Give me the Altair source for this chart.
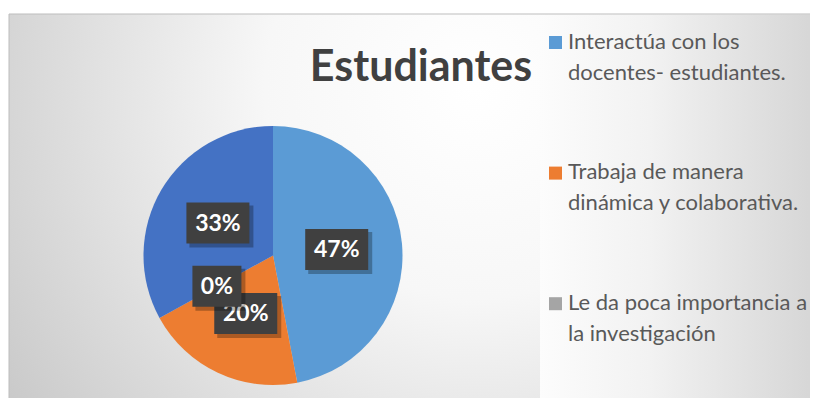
import altair as alt
import pandas as pd

# ---------------- data ----------------
categories = [
    "Interactúa con los docentes- estudiantes.",
    "Trabaja de manera dinámica y colaborativa.",
    "Le da poca importancia a la investigación",
    "(sin etiqueta)",
]
values = [47, 20, 0, 33]
colors = ["#5B9BD5", "#ED7D31", "#A5A5A5", "#4472C4"]
legend_labels = [
    "Interactúa con los\ndocentes- estudiantes.",
    "Trabaja de manera\ndinámica y colaborativa.",
    "Le da poca importancia a\nla investigación",
]
title_text = "Estudiantes"

# ---------------- layout ----------------
W, H = 802, 390
CX, CY, R = 265, 247.5, 129.5   # pie centre / radius (px)
LR = 64                          # label radius

df = pd.DataFrame({"idx": list(range(len(values))), "cat": categories, "value": values})
leg_df = pd.DataFrame({"i": list(range(len(legend_labels))),
                       "label": legend_labels,
                       "cat": categories[:len(legend_labels)]})
one = pd.DataFrame({"k": [0]})

color_scale = alt.Scale(domain=categories, range=colors)

# background
bg = alt.Chart(one).mark_rect(
    fill=alt.Gradient(gradient="radial", x1=0.58, y1=0.35, x2=0.58, y2=0.35, r1=0, r2=0.75,
                      stops=[alt.GradientStop(offset=0, color="#ffffff"),
                             alt.GradientStop(offset=0.35, color="#f7f7f7"),
                             alt.GradientStop(offset=1, color="#c4c4c4")]),
    stroke="#bdbdbd", strokeWidth=1,
).encode(x=alt.value(1), x2=alt.value(W + 4), y=alt.value(6), y2=alt.value(H + 4))

legbox = alt.Chart(one).mark_rect(
    fill=alt.Gradient(gradient="linear", x1=0, y1=0, x2=1, y2=0,
                      stops=[alt.GradientStop(offset=0, color="#fcfcfc"),
                             alt.GradientStop(offset=0.4, color="#f2f2f2"),
                             alt.GradientStop(offset=1, color="#d6d6d6")]),
).encode(x=alt.value(532), x2=alt.value(W + 4), y=alt.value(7), y2=alt.value(H + 4))

# pie halo (shadow)
halo = alt.Chart(one).mark_circle(
    opacity=1, size=3.14159 * (R + 18) ** 2,
    fill=alt.Gradient(gradient="radial", x1=0.5, y1=0.5, x2=0.5, y2=0.5, r1=0, r2=0.5,
                      stops=[alt.GradientStop(offset=0, color="rgba(0,0,0,0.10)"),
                             alt.GradientStop(offset=0.86, color="rgba(0,0,0,0.09)"),
                             alt.GradientStop(offset=1, color="rgba(0,0,0,0)")]),
).encode(x=alt.value(CX), y=alt.value(CY))

pie = alt.Chart(df).mark_arc(radius=R).encode(
    theta=alt.Theta("value:Q", stack=True),
    color=alt.Color("cat:N", scale=color_scale, legend=None),
    order=alt.Order("idx:Q"),
    x=alt.value(CX), y=alt.value(CY),
)

lab = alt.Chart(df).transform_joinaggregate(
    total="sum(value)"
).transform_window(
    cum="sum(value)", sort=[alt.SortField("idx")], frame=[None, 0]
).transform_calculate(
    ang="(datum.cum - datum.value / 2) / datum.total * 2 * PI"
).transform_calculate(
    lx=f"{CX} + {LR} * sin(datum.ang)",
    ly=f"{CY} - {LR} * cos(datum.ang)",
    pct="format(datum.value / datum.total, '.0%')",
).transform_calculate(
    bw="21 + 14 * length(datum.pct)"
).transform_calculate(
    bx1="datum.lx - datum.bw / 2", bx2="datum.lx + datum.bw / 2",
    by1="datum.ly - 20.5", by2="datum.ly + 20.5",
    sx1="datum.lx - datum.bw / 2 + 3", sx2="datum.lx + datum.bw / 2 + 4",
    sy1="datum.ly - 20.5 + 3", sy2="datum.ly + 20.5 + 4",
)

label_layers = []
for i in range(len(values)):
    sub = lab.transform_filter(f"datum.idx == {i}")
    label_layers.append(sub.mark_rect(fill="#000000", opacity=0.28).encode(
        x=alt.X("sx1:Q", scale=None, axis=None), x2="sx2:Q",
        y=alt.Y("sy1:Q", scale=None, axis=None), y2="sy2:Q"))
    label_layers.append(sub.mark_rect(fill="#404040").encode(
        x=alt.X("bx1:Q", scale=None, axis=None), x2="bx2:Q",
        y=alt.Y("by1:Q", scale=None, axis=None), y2="by2:Q"))
    label_layers.append(sub.mark_text(
        font="Lato", fontSize=23, fontWeight="bold", color="white",
        align="center", baseline="middle", dy=1).encode(
        x=alt.X("lx:Q", scale=None, axis=None),
        y=alt.Y("ly:Q", scale=None, axis=None),
        text="pct:N"))

title = alt.Chart(one).mark_text(
    text=title_text, font="Lato", fontSize=43, fontWeight="bold", color="#404040",
    align="center", baseline="alphabetic",
).encode(x=alt.value(413), y=alt.value(73))

leg_base = alt.Chart(leg_df).transform_calculate(
    sy="34.5 + datum.i * 130.6", ty="40.5 + datum.i * 130.6")
leg_sq = leg_base.mark_square(size=169, opacity=1).encode(
    x=alt.value(547.5),
    y=alt.Y("sy:Q", scale=None, axis=None),
    color=alt.Color("cat:N", scale=color_scale, legend=None),
)
leg_tx = leg_base.mark_text(
    align="left", baseline="alphabetic", lineBreak="\n", lineHeight=31,
    font="Lato", fontSize=22, color="#595959",
).encode(x=alt.value(560), y=alt.Y("ty:Q", scale=None, axis=None), text="label:N")

chart = alt.layer(bg, legbox, halo, pie, *label_layers, title, leg_sq, leg_tx).properties(
    width=W, height=H, autosize=alt.AutoSizeParams(type="none"), padding=0,
).configure_view(stroke=None)

chart.save("out.html", embed_options={"renderer": "svg", "actions": False})
